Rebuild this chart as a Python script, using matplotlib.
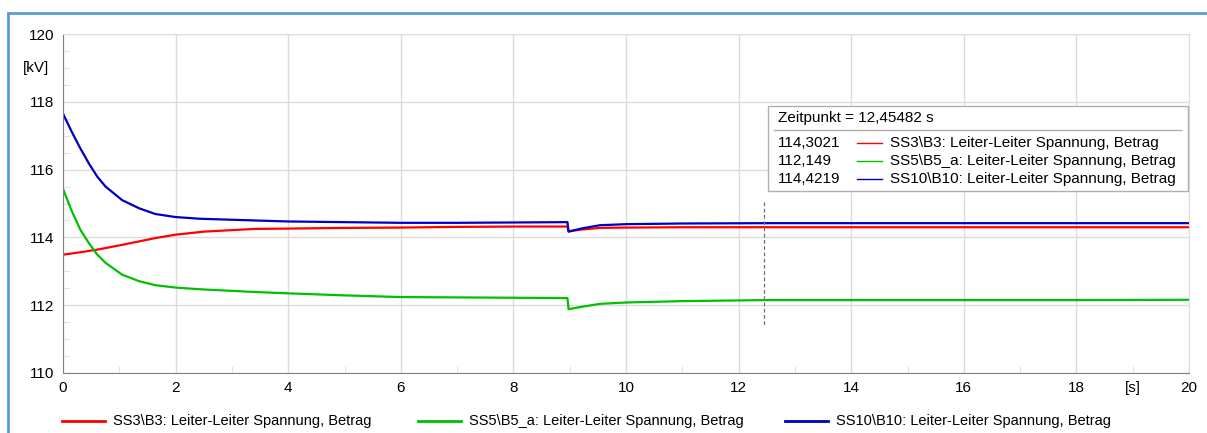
import matplotlib.pyplot as plt
from matplotlib.lines import Line2D
from matplotlib.patches import Rectangle

plt.rcParams['font.family'] = ['Liberation Sans', 'DejaVu Sans']

# time points [s] and voltages [kV]
t_red = [0, 0.3, 0.61, 1.05, 1.64, 2, 2.5, 3.4, 4, 5, 6, 7, 8, 8.96, 8.98, 9.2, 9.54, 10, 11, 12.45,
         14, 16, 18, 20]
v_red = [113.49, 113.56, 113.64, 113.78, 113.98, 114.08, 114.17, 114.25, 114.26, 114.28, 114.29,
         114.31, 114.32, 114.32, 114.18, 114.23, 114.28, 114.29, 114.3, 114.3, 114.3, 114.3, 114.3,
         114.3]

t_green = [0, 0.16, 0.31, 0.46, 0.61, 0.755, 1.05, 1.35, 1.64, 2, 2.43, 3.4, 4, 5, 6, 7, 8, 8.96,
           8.98, 9.2, 9.54, 10, 11, 12.45, 14, 16, 18, 20]
v_green = [115.43, 114.76, 114.22, 113.83, 113.49, 113.25, 112.9, 112.71, 112.59, 112.52, 112.47,
           112.39, 112.35, 112.29, 112.24, 112.23, 112.22, 112.21, 111.88, 111.95, 112.04, 112.08,
           112.12, 112.15, 112.15, 112.15, 112.15, 112.16]

t_blue = [0, 0.16, 0.31, 0.46, 0.61, 0.755, 1.05, 1.35, 1.64, 2, 2.43, 3.4, 4, 5, 6, 7, 8, 8.96,
          8.98, 9.2, 9.54, 10, 11, 12.45, 14, 16, 18, 20]
v_blue = [117.65, 117.1, 116.62, 116.18, 115.79, 115.5, 115.1, 114.86, 114.69, 114.6, 114.55,
          114.5, 114.47, 114.45, 114.43, 114.43, 114.44, 114.45, 114.17, 114.26, 114.36, 114.39,
          114.41, 114.42, 114.42, 114.42, 114.42, 114.42]

names = ['SS3\\B3: Leiter-Leiter Spannung, Betrag',
         'SS5\\B5_a: Leiter-Leiter Spannung, Betrag',
         'SS10\\B10: Leiter-Leiter Spannung, Betrag']
colors = ['#ff0000', '#00c000', '#0000c0']
cursor_t = 12.45482
cursor_vals = ['114,3021', '112,149', '114,4219']

fig = plt.figure(figsize=(12.07, 4.33), dpi=100)
# blue outer frame
fig.patches.append(Rectangle((8 / 1207, -0.1), 1.2, 1 - 13 / 433 + 0.1, transform=fig.transFigure,
                             fill=False, edgecolor='#5b9bd5', linewidth=2))

ax = fig.add_axes([63 / 1207, 1 - 373 / 433, 1126 / 1207, 339 / 433])
ax.plot(t_red, v_red, color=colors[0], lw=1.6)
ax.plot(t_green, v_green, color=colors[1], lw=1.6)
ax.plot(t_blue, v_blue, color=colors[2], lw=1.6)

ax.set_xlim(0, 20)
ax.set_ylim(110, 120)
ax.set_xticks(range(0, 21, 2))
ax.set_xticks(range(1, 20, 2), minor=True)
ax.set_yticks(range(110, 121, 2))
ax.set_yticks([110 + 0.5 * i for i in range(21)], minor=True)
ax.grid(True, which='major', color='#dcdcdc', lw=1)
ax.tick_params(which='major', length=0, labelsize=11, pad=6)
ax.tick_params(which='minor', direction='in', length=5, color='#dcdcdc')
for s in ['top', 'right']:
    ax.spines[s].set_color('#dcdcdc')
for s in ['left', 'bottom']:
    ax.spines[s].set_color('#808080')
ax.set_axisbelow(True)
ax.text(-0.25, 119, '[kV]', ha='right', va='center', fontsize=11)
ax.text(19, 109.75, '[s]', ha='center', va='top', fontsize=11)

# cursor line
ax.plot([cursor_t, cursor_t], [115.05, 111.35], color='#707070', lw=0.9, ls=(0, (3, 2)))

# cursor info box
fig.patches.append(Rectangle((768 / 1207, 1 - 191 / 433), 420 / 1207, 85 / 433,
                             transform=fig.transFigure, facecolor='white',
                             edgecolor='#b0b0b0', lw=1, zorder=5))
fig.text(778 / 1207, 1 - 118 / 433, 'Zeitpunkt = 12,45482 s', fontsize=11, va='center', zorder=6)
fig.add_artist(Line2D([774 / 1207, 1181 / 1207], [1 - 130 / 433, 1 - 130 / 433],
                      color='#b0b0b0', lw=1, zorder=6))
for i in range(3):
    yy = 1 - (143 + 18 * i) / 433
    fig.text(778 / 1207, yy, cursor_vals[i], fontsize=11, va='center', zorder=6)
    fig.add_artist(Line2D([857 / 1207, 882 / 1207], [yy, yy], color=colors[i], lw=1, zorder=6))
    fig.text(890 / 1207, yy, names[i], fontsize=11, va='center', zorder=6)

# bottom legend
leg_x = [62, 418, 785]
for i in range(3):
    yy = 1 - 421 / 433
    fig.add_artist(Line2D([leg_x[i] / 1207, (leg_x[i] + 43) / 1207], [yy, yy],
                          color=colors[i], lw=2))
    fig.text((leg_x[i] + 51) / 1207, yy, names[i], fontsize=10.5, va='center')

fig.savefig('out.png', dpi=100)
